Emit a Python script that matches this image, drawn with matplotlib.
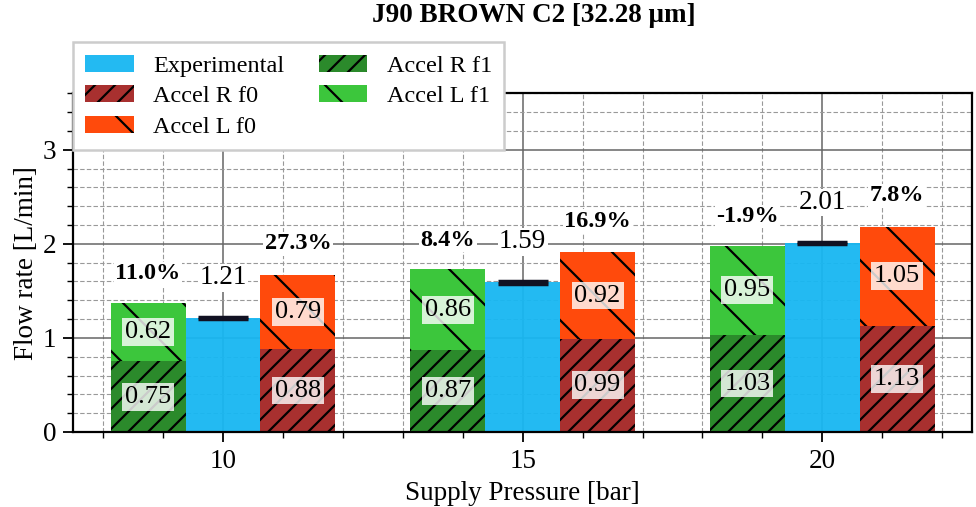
import numpy as np
import matplotlib
matplotlib.use("Agg")
import matplotlib.pyplot as plt
from matplotlib.ticker import MultipleLocator

# render at a high dpi so the hatch spacing comes out like the original
DPI = 180
S = 100 / DPI  # sizes below are written as if at 100 dpi


def pt(v):
    return v * S


plt.rcParams['font.family'] = ['Liberation Serif', 'DejaVu Serif']
plt.rcParams['hatch.linewidth'] = pt(1.6)

pressures = [10, 15, 20]
experimental = [1.21, 1.59, 2.01]
accel_r_f0 = [0.88, 0.99, 1.13]
accel_l_f0 = [0.79, 0.92, 1.05]
accel_r_f1 = [0.75, 0.87, 1.03]
accel_l_f1 = [0.62, 0.86, 0.95]
err_f1 = ['11.0%', '8.4%', '-1.9%']
err_f0 = ['27.3%', '16.9%', '7.8%']

colors = {
    'exp': '#17b7f2',
    'r_f0': '#a8302f',
    'l_f0': '#ff4a0c',
    'r_f1': '#2b8a2b',
    'l_f1': '#3cc63c',
}

x = np.array(pressures, dtype=float)
w = 1.25

fig = plt.figure(figsize=(976 / DPI, 507 / DPI), dpi=DPI)
ax = fig.add_axes([0.075, 0.148, 0.921, 0.668])

ax.set_axisbelow(True)
ax.grid(which='major', color='#666666', linestyle='-', linewidth=pt(1.1))
ax.grid(which='minor', color='#999999', linestyle=(0, (4, 2)), linewidth=pt(0.8))

# green (f1) stacks, left of each group
b1 = ax.bar(x - w, accel_r_f1, w, color=colors['r_f1'], hatch='///',
            edgecolor='black', linewidth=0, label='Accel R f1')
b2 = ax.bar(x - w, accel_l_f1, w, bottom=accel_r_f1, color=colors['l_f1'],
            hatch='\\', edgecolor='black', linewidth=0, label='Accel L f1')

# experimental in the middle
be = ax.bar(x, experimental, w, color=colors['exp'], linewidth=0, alpha=0.95,
            label='Experimental')
ax.errorbar(x, experimental, yerr=0.012, fmt='none', ecolor='#111122',
            elinewidth=pt(2.5), capsize=pt(18), capthick=pt(2.5))

# red/orange (f0) stacks, right of each group
b3 = ax.bar(x + w, accel_r_f0, w, color=colors['r_f0'], hatch='///',
            edgecolor='black', linewidth=0, label='Accel R f0')
b4 = ax.bar(x + w, accel_l_f0, w, bottom=accel_r_f0, color=colors['l_f0'],
            hatch='\\', edgecolor='black', linewidth=0, label='Accel L f0')

box = dict(facecolor='white', alpha=0.8, edgecolor='none', pad=pt(2))
wbox = dict(facecolor='white', edgecolor='none', pad=pt(1))
for i in range(len(x)):
    g_top = accel_r_f1[i] + accel_l_f1[i]
    o_top = accel_r_f0[i] + accel_l_f0[i]
    ax.text(x[i] - w, accel_r_f1[i] / 2, f'{accel_r_f1[i]:.2f}', ha='center',
            va='center', fontsize=pt(19), bbox=box)
    ax.text(x[i] - w, accel_r_f1[i] + accel_l_f1[i] / 2, f'{accel_l_f1[i]:.2f}',
            ha='center', va='center', fontsize=pt(19), bbox=box)
    ax.text(x[i] + w, accel_r_f0[i] / 2, f'{accel_r_f0[i]:.2f}', ha='center',
            va='center', fontsize=pt(19), bbox=box)
    ax.text(x[i] + w, accel_r_f0[i] + accel_l_f0[i] / 2, f'{accel_l_f0[i]:.2f}',
            ha='center', va='center', fontsize=pt(19), bbox=box)
    ax.text(x[i], experimental[i] + 0.43, f'{experimental[i]:.2f}', ha='center',
            va='center', fontsize=pt(19.5), bbox=wbox)
    ax.text(x[i] - w, g_top + 0.31, err_f1[i], ha='center', va='center',
            fontsize=pt(17.5), fontweight='bold', bbox=wbox)
    ax.text(x[i] + w, o_top + 0.33, err_f0[i], ha='center', va='center',
            fontsize=pt(17.5), fontweight='bold', bbox=wbox)

ax.set_xlim(7.5, 22.5)
ax.set_ylim(0, 3.6)
ax.set_xticks(pressures)
ax.set_yticks([0, 1, 2, 3])
ax.xaxis.set_minor_locator(MultipleLocator(1))
ax.yaxis.set_minor_locator(MultipleLocator(0.2))
ax.tick_params(which='major', length=pt(7), width=pt(1.3), labelsize=pt(19.5),
               direction='out', pad=pt(5))
ax.tick_params(which='minor', length=pt(4), width=pt(1), direction='out')
for s in ax.spines.values():
    s.set_linewidth(pt(1.6))

ax.set_xlabel('Supply Pressure [bar]', fontsize=pt(19.5), labelpad=pt(5))
ax.set_ylabel('Flow rate [L/min]', fontsize=pt(19.5), labelpad=pt(3))
fig.suptitle('J90 BROWN C2 [32.28 μm]', fontsize=pt(19.5), fontweight='bold',
             x=0.547, y=0.995)

handles = [be, b3, b4, b1, b2]
labels = [h.get_label() for h in handles]
ax.legend(handles, labels, ncol=2, loc='upper left', bbox_to_anchor=(0.0, 1.15),
          fontsize=pt(17.5), fancybox=False, framealpha=1, edgecolor='#cccccc',
          handlelength=2.0, handleheight=0.7, columnspacing=1.4,
          labelspacing=0.35, borderaxespad=0.0, borderpad=0.5)

fig.savefig('out.png', dpi=DPI)
